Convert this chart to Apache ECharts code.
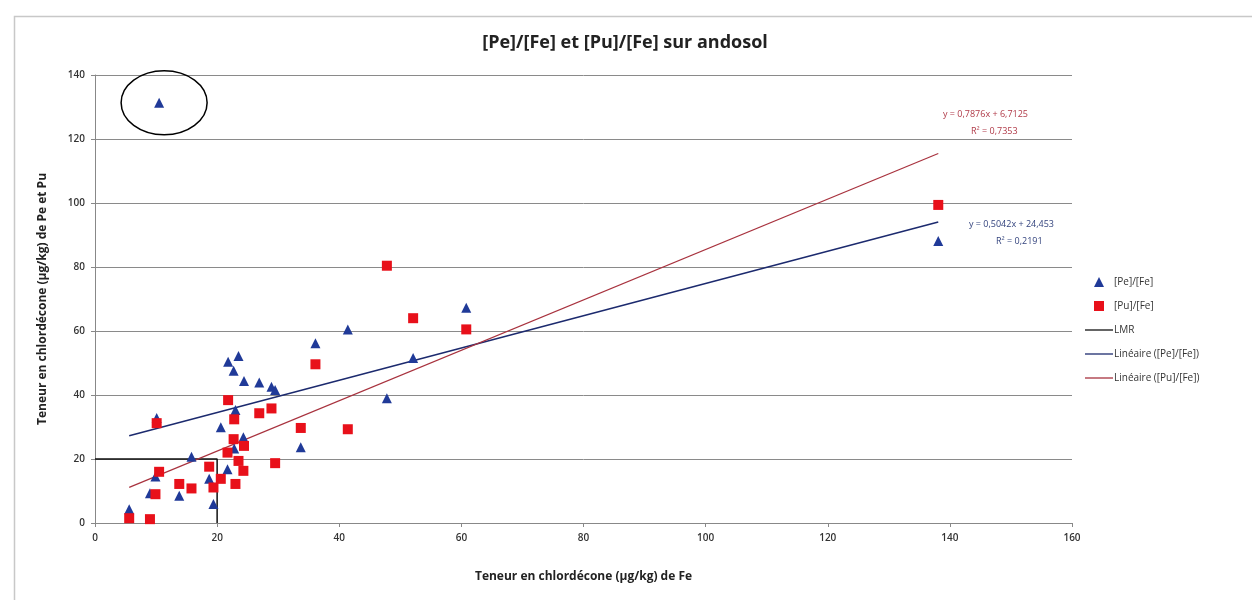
<!DOCTYPE html>
<html>
<head>
<meta charset="utf-8">
<script src="https://cdn.jsdelivr.net/npm/echarts@6/dist/echarts.min.js"></script>
<style>
  html, body { margin: 0; padding: 0; background: #fff; }
  #main { width: 1252px; height: 600px; }
</style>
</head>
<body>
<div id="main"></div>
<script>
// teneur en Fe (commune aux deux series)
var feValues = [5.6, 9.0, 9.9, 10.1, 10.5, 13.8, 15.8, 18.7, 19.4, 20.6, 21.7, 21.8, 22.7, 22.8,
  23.0, 23.5, 24.3, 24.4, 26.9, 28.9, 29.5, 33.7, 36.1, 41.4, 47.8, 52.1, 60.8, 138.1];
var peValues = [4.3, 9.3, 14.5, 32.8, 131.3, 8.5, 20.7, 13.8, 5.9, 29.9, 16.8, 50.4, 47.6, 23.3,
  35.3, 52.2, 26.8, 44.4, 43.9, 42.6, 41.6, 23.7, 56.2, 60.5, 39.0, 51.6, 67.3, 88.1];
var puValues = [1.5, 1.2, 9.0, 31.2, 16.0, 12.2, 10.8, 17.6, 11.1, 13.8, 22.0, 38.4, 26.2, 32.4,
  12.2, 19.4, 16.3, 24.1, 34.3, 35.8, 18.7, 29.7, 49.6, 29.3, 80.4, 64.0, 60.5, 99.4];
// limite LMR (20 µg/kg)
var lmrX = [0, 20, 20];
var lmrY = [20, 20, 0];
// equations de tendance
var pePente = 0.5042, peOrigine = 24.453, peR2 = '0,2191';
var puPente = 0.7876, puOrigine = 6.7125, puR2 = '0,7353';
var xTicks = [0, 160, 20];
var yTicks = [0, 140, 20];

var myChart = echarts.init(document.getElementById('main'));

function zip(xs, ys) {
  return xs.map(function (x, i) { return [x, ys[i]]; });
}
var xMin = Math.min.apply(null, feValues);
var xMax = Math.max.apply(null, feValues);
function tendance(a, b) {
  return [[xMin, a * xMin + b], [xMax, a * xMax + b]];
}

var font = 'Open Sans';
var trait = 'path://M0,0 L28,0 L28,1.3 L0,1.3 Z';
var option = {
  animation: false,
  backgroundColor: '#fff',
  title: {
    text: '[Pe]/[Fe] et [Pu]/[Fe] sur andosol',
    left: 620, top: 29, textAlign: 'center',
    textStyle: { fontFamily: font, fontSize: 18, fontWeight: 'bold', color: '#222' }
  },
  grid: { left: 95, right: 180, top: 75, bottom: 77 },
  legend: {
    orient: 'vertical', left: 1080, top: 272, itemGap: 14,
    itemWidth: 28, itemHeight: 10, symbolKeepAspect: true,
    textStyle: { fontFamily: font, fontSize: 10, color: '#333', padding: [0, 0, 0, -4] },
    data: [
      { name: '[Pe]/[Fe]', icon: 'path://M4,0 L8,8 L0,8 Z' },
      { name: '[Pu]/[Fe]', icon: 'path://M0,0 L8,0 L8,8 L0,8 Z' },
      { name: 'LMR', icon: trait },
      { name: 'Linéaire ([Pe]/[Fe])', icon: trait },
      { name: 'Linéaire ([Pu]/[Fe])', icon: trait }
    ]
  },
  xAxis: {
    type: 'value', min: xTicks[0], max: xTicks[1], interval: xTicks[2],
    name: 'Teneur en chlordécone (µg/kg) de Fe',
    nameLocation: 'middle', nameGap: 48,
    nameTextStyle: { fontFamily: font, fontSize: 12, fontWeight: 'bold', color: '#222' },
    axisLine: { onZero: false, lineStyle: { color: '#888' } },
    axisTick: { show: true, length: 4, lineStyle: { color: '#888' } },
    axisLabel: { fontFamily: font, fontSize: 10, fontWeight: 600, color: '#333', margin: 10 },
    splitLine: { show: false }
  },
  yAxis: {
    type: 'value', min: yTicks[0], max: yTicks[1], interval: yTicks[2],
    name: 'Teneur en chlordécone (µg/kg) de Pe et Pu',
    nameLocation: 'middle', nameGap: 46,
    nameTextStyle: { fontFamily: font, fontSize: 12, fontWeight: 'bold', color: '#222' },
    axisLine: { show: true, lineStyle: { color: '#888' } },
    axisTick: { show: true, length: 4, lineStyle: { color: '#888' } },
    axisLabel: { fontFamily: font, fontSize: 10, fontWeight: 600, color: '#333', margin: 10 },
    splitLine: { lineStyle: { color: '#8a8a8a', width: 1 } }
  },
  series: [
    {
      name: '[Pe]/[Fe]', type: 'scatter', symbol: 'triangle', symbolSize: 10,
      itemStyle: { color: '#203a98', opacity: 1 }, z: 4,
      data: zip(feValues, peValues)
    },
    {
      name: '[Pu]/[Fe]', type: 'scatter', symbol: 'rect', symbolSize: 10,
      itemStyle: { color: '#e8101a', opacity: 1 }, z: 5,
      data: zip(feValues, puValues)
    },
    {
      name: 'LMR', type: 'line', symbol: 'none', z: 3,
      itemStyle: { color: '#111' },
      lineStyle: { color: '#111', width: 1.5 },
      data: zip(lmrX, lmrY)
    },
    {
      name: 'Linéaire ([Pe]/[Fe])', type: 'line', symbol: 'none', z: 3,
      itemStyle: { color: '#1c2a6e' },
      lineStyle: { color: '#1c2a6e', width: 1.5 },
      data: tendance(pePente, peOrigine)
    },
    {
      name: 'Linéaire ([Pu]/[Fe])', type: 'line', symbol: 'none', z: 3,
      itemStyle: { color: '#a8323e' },
      lineStyle: { color: '#a8323e', width: 1.2 },
      data: tendance(puPente, puOrigine)
    }
  ]
};
myChart.setOption(option);

function fmt(v) { return String(v).replace('.', ','); }
var iMax = peValues.indexOf(Math.max.apply(null, peValues));
var pt = myChart.convertToPixel({ gridIndex: 0 }, [feValues[iMax], peValues[iMax]]);

myChart.setOption({
  graphic: [
    { type: 'rect', left: 12, top: 14, shape: { width: 1260, height: 600 }, silent: true,
      style: { fill: null, stroke: '#c8c8c8', lineWidth: 1.5 } },
    { type: 'ellipse', shape: { cx: pt[0] + 5, cy: pt[1], rx: 43, ry: 32 }, z: 10,
      style: { fill: null, stroke: '#000', lineWidth: 1.5 } },
    { type: 'text', left: 943, top: 110, style: { text: 'y = ' + fmt(puPente) + 'x + ' + fmt(puOrigine),
      fill: '#b03a48', font: '9px "Open Sans"' } },
    { type: 'text', left: 971, top: 127, style: { text: 'R² = ' + puR2,
      fill: '#b03a48', font: '9px "Open Sans"' } },
    { type: 'text', left: 969, top: 220, style: { text: 'y = ' + fmt(pePente) + 'x + ' + fmt(peOrigine),
      fill: '#34447e', font: '9px "Open Sans"' } },
    { type: 'text', left: 996, top: 237, style: { text: 'R² = ' + peR2,
      fill: '#34447e', font: '9px "Open Sans"' } }
  ]
});
</script>
</body>
</html>
